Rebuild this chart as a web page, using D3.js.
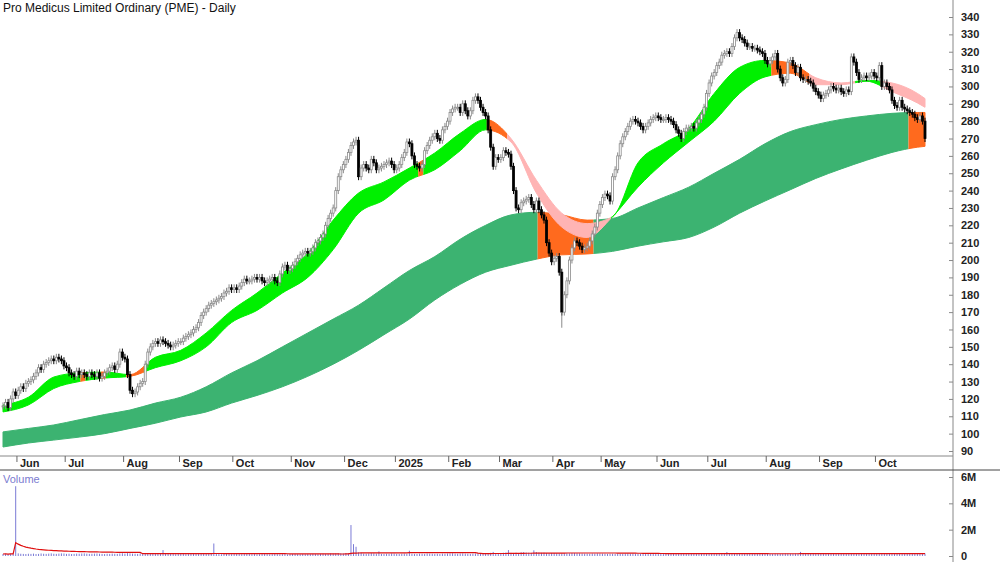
<!DOCTYPE html>
<html><head><meta charset="utf-8">
<script src="https://cdn.jsdelivr.net/npm/d3@7"></script>
<style>body{margin:0;background:#fff}svg{display:block;font-family:"Liberation Sans",Arial,sans-serif}</style>
</head><body><svg id="c" width="1000" height="562"></svg>
<script>
// daily closes, 24 May 2024 .. 28 Oct 2025
var closes = [
116,118,115,120,124,122,125,127,126,129, 130,131,133,135,138,137,140,141,142,143,
142,144,143,142,139,138,135,134,133,136, 134,135,134,133,135,134,133,135,132,133,
135,136,138,139,137,140,147,144,143,134, 125,123,124,127,129,130,140,147,150,152,
153,152,154,153,152,151,150,151,152,153, 153,155,156,157,158,160,161,164,168,170,
172,174,175,176,177,178,179,181,182,184, 183,184,183,185,187,189,188,188,189,190,
189,190,188,187,188,189,190,188,187,192, 196,197,194,195,197,199,201,203,204,205,
204,205,207,210,211,213,215,220,224,227, 230,240,248,252,255,258,262,266,268,269,
248,253,255,253,252,258,256,252,253,254, 255,256,257,255,252,253,255,259,262,268,
267,260,255,254,253,255,263,266,269,271, 273,270,269,275,277,280,285,287,288,288,
285,290,286,283,286,292,294,292,288,285, 283,275,265,254,259,258,259,263,262,261,
254,240,230,229,233,234,235,236,232,229, 234,229,226,223,210,204,199,201,202,193,
170,180,188,200,207,211,210,208,206,207, 208,211,215,219,227,232,236,238,237,234,
248,252,260,267,271,274,277,280,281,280, 279,277,275,277,279,281,282,283,282,281,
281,282,281,280,278,275,273,270,274,276, 276,277,276,279,281,284,288,296,302,306,
308,312,314,318,319,320,319,323,328,331, 328,327,325,323,323,322,322,321,320,319,
315,313,315,317,319,310,305,302,304,314, 315,312,308,311,305,304,304,303,302,299,
297,295,293,295,296,298,300,299,298,299, 297,296,298,297,317,314,308,304,305,306,
305,306,308,306,305,312,300,302,300,298, 292,289,288,292,288,287,286,285,284,282,
281,283,280,270];
// daily volume, thousands
var volumes = [
150,160,140,170,180,5300,200,170,160,150, 170,160,180,150,160,190,170,160,180,200,
170,160,180,200,190,160,170,150,160,180, 170,190,200,180,160,170,180,190,170,160,
150,170,160,180,170,160,190,210,180,220, 200,180,170,160,190,210,200,150,170,160,
150,160,170,450,180,170,160,150,140,160, 150,160,140,150,160,150,170,150,160,150,
150,160,170,950,160,150,140,150,160,150, 140,150,160,150,140,150,160,150,140,150,
130,140,150,160,140,130,140,150,140,130, 140,150,130,140,150,160,140,130,150,140,
150,140,160,150,140,160,170,150,160,200, 180,190,210,200,190,220,210,2350,900,700,
280,250,180,170,190,220,200,180,350,160, 150,170,160,200,180,160,150,170,180,160,
400,170,160,150,180,170,160,190,180,170, 160,170,150,180,170,190,200,210,180,170,
190,200,180,170,160,180,190,200,170,160, 200,220,240,310,200,220,230,250,270,450,
240,230,250,220,280,300,260,250,240,430, 300,260,240,250,220,200,230,220,200,190,
190,200,210,200,230,220,210,200,190,180, 180,170,190,180,200,190,180,170,160,170,
170,160,180,170,160,180,190,170,180,170, 160,170,180,160,170,180,170,160,170,180,
180,190,170,160,180,210,200,220,180,170, 170,160,180,170,160,150,170,160,170,160,
160,170,180,160,170,300,180,160,170,160, 160,150,170,160,170,180,160,150,160,170,
160,170,160,150,180,170,160,170,190,180, 170,160,180,170,310,200,190,180,170,160,
170,180,190,170,180,200,180,170,190,200, 180,170,190,200,180,170,160,180,190,170,
180,190,200,210,190,180,170,200,210,190, 180,200,190,170,180,190,200,180,170,190,
180,170,160,190];
var holidays = ["2024-06-10","2024-12-25","2024-12-26","2025-01-01","2025-01-27",
  "2025-04-18","2025-04-21","2025-04-25","2025-06-09"];
var monthNames = ["2025","Feb","Mar","Apr","May","Jun","Jul","Aug","Sep","Oct","Nov","Dec"];
var priceTicks = d3.range(90, 341, 10);
var volTicks = [0, 2e6, 4e6, 6e6];
var volTickLabels = ["0", "2M", "4M", "6M"];

// indicator ribbons at these day indices
var bandDays = [0,10,20,30,40,50,60,70,80,90,100,110,120,130,140,150,160,170,180,190,
  200,210,220,230,240,250,260,270,280,290,300,310,320,330,340,350,360,363];
var shortHi = [116.5,121,132.6,135,135.5,134,144,148,158,171,181,192.5,204,223,238.6,245,253,261.7,273,281,
  270,246,227,221,225,256,267,276,296,311,315,313.5,305,302,303.5,302,296,293];
var shortLo = [112.5,116.5,126,130,132,133,138,142,150,164,171,181,190,206,227,234.6,246,252,263,275,
  268,238.6,219,213,225,242,256,268,280,296,305.5,307.6,301,301,303,297,290.5,288];
var longHi = [101,103,105,108,111,113.6,117.6,121,127,135,142,150,158,166,174,184,194,202,212,220,
  226,227.5,226,223,224,230,236,242,250,258,267,274,278,281,283,284.5,285,285];
var longLo = [92.3,94.6,96.3,98,100,103,106,109.6,112.5,117.6,122,127,133,140,148,157,166,177,186,193,
  197,200.5,203,203.5,205,208,210.5,213,219,227,234,240.5,247,252.5,257.5,262,265,265.5];
// colour segments [fromDay, toDay, kind]
var shortSegs = [[0,31,"g"],[31,33,"o"],[33,39,"g"],[39,41,"o"],[41,49,"g"],[49,56,"o"],[56,164,"g"],
  [164,166,"o"],[166,191,"g"],[191,199,"o"],[199,240,"p"],[240,303,"g"],[303,318,"o"],[318,336,"p"],
  [336,346,"g"],[346,364,"p"]];
var longSegs = [[0,211,"d"],[211,233,"o"],[233,357,"d"],[357,364,"o"]];
var colors = {g:"#00f000", o:"#ff6a1e", p:"#ffb4b4", d:"#3cb371"};

var dates = [], d = new Date(2024, 4, 24);
while (dates.length < closes.length) {
  var key = d3.timeFormat("%Y-%m-%d")(d);
  if (d.getDay() != 0 && d.getDay() != 6 && holidays.indexOf(key) < 0) dates.push(new Date(d));
  d.setDate(d.getDate() + 1);
}

var svg = d3.select("#c");
var x = d3.scaleLinear().domain([0, closes.length - 1]).range([3, 925]);
var y = d3.scaleLinear().domain([90, 340]).range([451, 17]);
var yv = d3.scaleLinear().domain([0, 6e6]).range([556, 477]);
var axisX = 953;

// ribbons
var defs = svg.append("defs");
function ribbon(hi, lo, segs, id) {
  var pts = bandDays.map((t, i) => [t, hi[i], lo[i]]);
  var area = d3.area().x(p => x(p[0])).y0(p => y(p[2])).y1(p => y(p[1])).curve(d3.curveMonotoneX);
  segs.forEach((s, k) => {
    var cid = id + k;
    defs.append("clipPath").attr("id", cid).append("rect")
      .attr("x", x(s[0]) - 1.27).attr("width", x(s[1]) - x(s[0])).attr("y", 0).attr("height", 460);
    svg.append("path").datum(pts).attr("d", area).attr("clip-path", "url(#" + cid + ")")
      .attr("fill", colors[s[2]]).attr("stroke", colors[s[2]]).attr("stroke-width", 1);
  });
}
ribbon(longHi, longLo, longSegs, "l");
ribbon(shortHi, shortLo, shortSegs, "s");

// candles (open = previous close)
var cw = 2;
closes.forEach((c, i) => {
  var o = i ? closes[i - 1] : c;
  var up = c >= o;
  var hi = Math.max(o, c) + 2, lo = Math.min(o, c) - 2;
  var col = up ? "#8a8a8a" : "#000";
  svg.append("line").attr("x1", x(i)).attr("x2", x(i)).attr("y1", y(hi)).attr("y2", y(lo))
    .attr("stroke", col).attr("stroke-width", 1);
  var top = y(Math.max(o, c)), h = Math.max(1, Math.abs(y(o) - y(c)));
  svg.append("rect").attr("x", x(i) - cw / 2).attr("y", top).attr("width", cw).attr("height", h)
    .attr("fill", up ? "#fff" : "#000").attr("stroke", col).attr("stroke-width", 0.8);
});
// the April low wick
svg.append("line").attr("x1", x(220)).attr("x2", x(220)).attr("y1", y(170)).attr("y2", y(161))
  .attr("stroke", "#8a8a8a");

// frame and axes
svg.append("line").attr("x1", axisX).attr("x2", axisX).attr("y1", 0).attr("y2", 562).attr("stroke", "#888");
svg.append("line").attr("x1", 0).attr("x2", axisX).attr("y1", 456).attr("y2", 456).attr("stroke", "#888");
svg.append("line").attr("x1", 0).attr("x2", 1000).attr("y1", 470).attr("y2", 470).attr("stroke", "#444");
svg.append("g").attr("transform", "translate(" + axisX + ",0)")
  .call(d3.axisRight(y).tickValues(priceTicks).tickSize(-4).tickPadding(8))
  .call(g => g.select(".domain").remove())
  .call(g => g.selectAll("text").attr("font-size", 11).attr("font-weight", "bold").attr("fill", "#222"))
  .call(g => g.selectAll("line").attr("stroke", "#888"));
svg.append("g").attr("transform", "translate(" + axisX + ",0)")
  .call(d3.axisRight(yv).tickValues(volTicks).tickFormat((v, i) => volTickLabels[i]).tickSize(-4).tickPadding(8))
  .call(g => g.select(".domain").remove())
  .call(g => g.selectAll("text").attr("font-size", 11).attr("font-weight", "bold").attr("fill", "#222"))
  .call(g => g.selectAll("line").attr("stroke", "#888"));

var monthStarts = dates.map((dt, i) => i).filter(i => i > 0 && dates[i].getMonth() != dates[i - 1].getMonth());
monthStarts.forEach(i => {
  var px = x(i) - 1.3;
  svg.append("line").attr("x1", px).attr("x2", px).attr("y1", 456).attr("y2", 462).attr("stroke", "#666");
  svg.append("text").attr("x", px + 3).attr("y", 467).attr("font-size", 11).attr("font-weight", "bold")
    .attr("fill", "#222").text(monthNames[dates[i].getMonth()]);
});

// volume
svg.append("text").attr("x", 3).attr("y", 483).attr("font-size", 11).attr("fill", "#7b7bd0").text("Volume");
volumes.forEach((v, i) => {
  svg.append("line").attr("x1", x(i)).attr("x2", x(i)).attr("y1", yv(0)).attr("y2", yv(v * 1000))
    .attr("stroke", "#7b7bd6").attr("stroke-width", 1);
});
var volMa = volumes.map((v, i) => d3.mean(volumes.slice(Math.max(0, i - 49), i + 1)) * 1000);
svg.append("path").datum(volMa).attr("fill", "none").attr("stroke", "#e01010").attr("stroke-width", 1.2)
  .attr("d", d3.line().x((v, i) => x(i)).y(v => yv(v)));

svg.append("text").attr("x", 3).attr("y", 12).attr("font-size", 12).attr("fill", "#111")
  .text("Pro Medicus Limited Ordinary (PME) - Daily");
</script></body></html>
